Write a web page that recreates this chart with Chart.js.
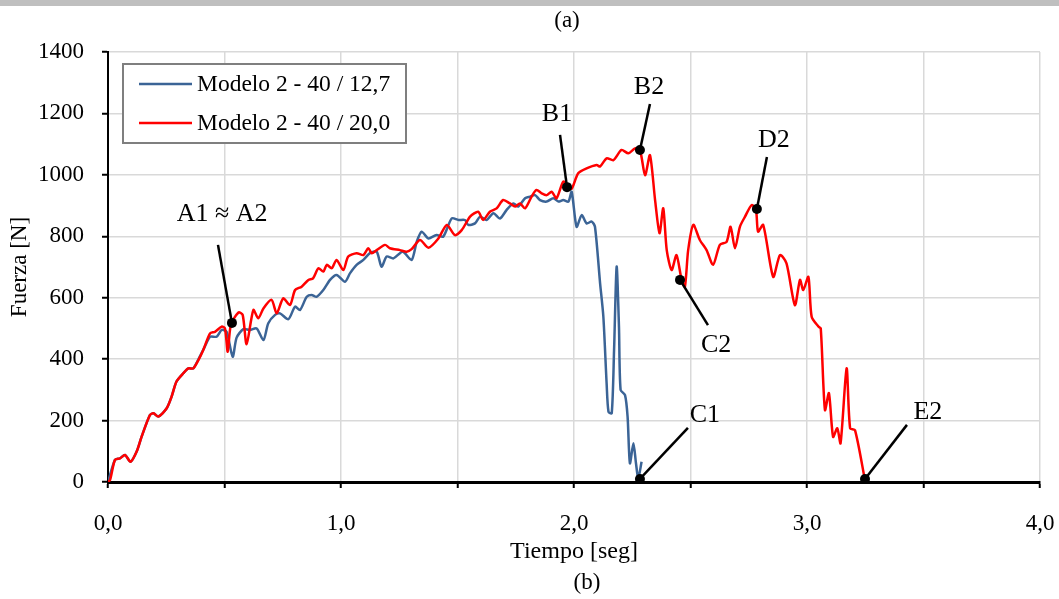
<!DOCTYPE html>
<html>
<head>
<meta charset="utf-8">
<script src="https://cdn.jsdelivr.net/npm/chart.js@4.4.1/dist/chart.umd.min.js"></script>
<style>
  html, body { margin: 0; padding: 0; background: #fff; }
  #wrap { position: relative; width: 1059px; height: 599px; }
  #bar { position: absolute; left: 0; top: 0; width: 1059px; height: 6px; background: #bfbfbf; }
</style>
</head>
<body>
<div id="wrap">
  <canvas id="chart" width="1059" height="599"></canvas>
  <div id="bar"></div>
</div>
<script>
// Modelo 2 - 40 / 12,7
const timeA = [0.00, 0.03, 0.05, 0.073, 0.097, 0.123, 0.144, 0.18, 0.195, 0.216, 0.252, 0.273, 0.294, 0.323, 0.345, 0.366, 0.395, 0.415, 0.438, 0.466, 0.488, 0.509, 0.535, 0.552, 0.581, 0.609, 0.638, 0.667, 0.688, 0.717, 0.738, 0.774, 0.803, 0.824, 0.853, 0.874, 0.895, 0.924, 0.953, 0.981, 1.017, 1.039, 1.067, 1.096, 1.124, 1.153, 1.174, 1.196, 1.225, 1.253, 1.267, 1.303, 1.325, 1.346, 1.375, 1.41, 1.439, 1.475, 1.504, 1.532, 1.546, 1.575, 1.597, 1.625, 1.654, 1.682, 1.711, 1.74, 1.761, 1.79, 1.811, 1.833, 1.854, 1.883, 1.911, 1.933, 1.954, 1.976, 1.99, 2.011, 2.033, 2.054, 2.076, 2.09, 2.112, 2.126, 2.14, 2.148, 2.162, 2.172, 2.183, 2.193, 2.2, 2.219, 2.23, 2.24, 2.255, 2.266, 2.276, 2.29];
const forceA = [0, 72, 77, 88, 66, 99, 147, 218, 224, 213, 240, 278, 327, 354, 370, 370, 410, 440, 473, 473, 495, 489, 408, 470, 498, 495, 500, 462, 517, 544, 549, 530, 571, 560, 603, 609, 603, 625, 658, 674, 652, 680, 707, 723, 745, 750, 701, 734, 728, 745, 750, 723, 782, 815, 793, 804, 799, 858, 853, 853, 837, 842, 864, 853, 875, 858, 886, 907, 897, 924, 929, 934, 918, 913, 924, 913, 918, 913, 945, 831, 869, 842, 848, 831, 647, 538, 321, 229, 224, 430, 701, 506, 300, 283, 213, 61, 126, 61, 12, 66];

// Modelo 2 - 40 / 20,0
const timeB = [0.00, 0.009, 0.03, 0.052, 0.073, 0.097, 0.123, 0.144, 0.18, 0.195, 0.216, 0.252, 0.273, 0.294, 0.323, 0.345, 0.366, 0.388, 0.409, 0.438, 0.459, 0.488, 0.502, 0.514, 0.527, 0.56, 0.578, 0.595, 0.624, 0.645, 0.667, 0.702, 0.724, 0.752, 0.781, 0.803, 0.831, 0.86, 0.88, 0.903, 0.924, 0.939, 0.96, 0.981, 1.01, 1.031, 1.067, 1.096, 1.117, 1.132, 1.153, 1.189, 1.21, 1.253, 1.282, 1.303, 1.339, 1.375, 1.418, 1.454, 1.489, 1.518, 1.554, 1.589, 1.61, 1.639, 1.668, 1.696, 1.725, 1.747, 1.768, 1.79, 1.818, 1.839, 1.861, 1.883, 1.904, 1.925, 1.954, 1.973, 1.99, 2.018, 2.054, 2.097, 2.112, 2.14, 2.169, 2.204, 2.233, 2.262, 2.283, 2.305, 2.326, 2.348, 2.367, 2.383, 2.398, 2.419, 2.44, 2.462, 2.476, 2.49, 2.512, 2.54, 2.569, 2.597, 2.626, 2.655, 2.672, 2.691, 2.712, 2.734, 2.763, 2.781, 2.79, 2.812, 2.855, 2.884, 2.912, 2.948, 2.97, 2.984, 3.006, 3.02, 3.049, 3.059, 3.077, 3.094, 3.112, 3.13, 3.144, 3.17, 3.185, 3.206, 3.249];
const forceB = [0, 7, 72, 77, 88, 66, 99, 147, 218, 224, 213, 240, 278, 327, 354, 370, 370, 397, 430, 484, 489, 506, 500, 424, 511, 552, 544, 449, 560, 533, 565, 593, 549, 598, 576, 625, 636, 658, 663, 696, 685, 707, 696, 723, 690, 734, 745, 739, 761, 745, 755, 772, 761, 755, 750, 758, 788, 763, 793, 837, 804, 820, 864, 880, 853, 880, 891, 918, 907, 897, 907, 891, 929, 951, 940, 934, 945, 924, 978, 962, 955, 1005, 1021, 1032, 1027, 1054, 1048, 1081, 1070, 1086, 1081, 999, 1064, 918, 810, 891, 755, 690, 739, 658, 636, 755, 837, 788, 755, 707, 772, 782, 831, 761, 831, 864, 902, 886, 815, 837, 668, 739, 712, 576, 658, 625, 668, 538, 506, 500, 234, 289, 147, 175, 126, 370, 175, 169, 5];

const seriesLabels = ['Modelo 2 - 40 / 12,7', 'Modelo 2 - 40 / 20,0'];
const seriesColors = ['#3b6496', '#ff0000'];

// marked points: text, point (t, F), end of leader line (t, F), label centre (t, F)
const markNames = ['A1 \u2248 A2', 'B1', 'B2', 'C1', 'C2', 'D2', 'E2'];
const markPoints = [[0.532, 518], [1.97, 960], [2.283, 1081], [2.283, 10], [2.455, 658], [2.785, 889], [3.249, 10]];
const markLineEnds = [[0.472, 772], [1.94, 1130], [2.326, 1231], [2.489, 176], [2.575, 511], [2.828, 1058], [3.429, 186]];
const markLabels = [[0.49, 872], [1.927, 1198], [2.322, 1286], [2.562, 218], [2.61, 445], [2.858, 1114], [3.519, 228]];

const FONT = 'Liberation Serif, Times New Roman, serif';

const toXY = (ts, fs) => ts.map((t, i) => ({ x: t, y: fs[i] }));

const decorations = {
  id: 'decorations',
  afterDatasetsDraw(chart) {
    const ctx = chart.ctx;
    const xs = chart.scales.x;
    const ys = chart.scales.y;
    ctx.save();

    // marked points
    ctx.strokeStyle = '#000';
    ctx.fillStyle = '#000';
    ctx.lineWidth = 2.5;
    ctx.font = '26px ' + FONT;
    ctx.textAlign = 'center';
    ctx.textBaseline = 'middle';
    markNames.forEach((name, i) => {
      const px = xs.getPixelForValue(markPoints[i][0]);
      const py = ys.getPixelForValue(markPoints[i][1]);
      const lx = xs.getPixelForValue(markLineEnds[i][0]);
      const ly = ys.getPixelForValue(markLineEnds[i][1]);
      ctx.beginPath();
      ctx.moveTo(px, py);
      ctx.lineTo(lx, ly);
      ctx.stroke();
      ctx.beginPath();
      ctx.arc(px, py, 5, 0, Math.PI * 2);
      ctx.fill();
      ctx.fillText(name, xs.getPixelForValue(markLabels[i][0]), ys.getPixelForValue(markLabels[i][1]));
    });

    // legend box
    ctx.fillStyle = '#fff';
    ctx.fillRect(123, 64, 283, 79);
    ctx.strokeStyle = '#7f7f7f';
    ctx.lineWidth = 2;
    ctx.strokeRect(123, 64, 283, 79);
    ctx.font = '23.5px ' + FONT;
    ctx.textAlign = 'left';
    seriesLabels.forEach((label, i) => {
      const y = 84 + i * 39;
      ctx.strokeStyle = seriesColors[i];
      ctx.lineWidth = 2.5;
      ctx.beginPath();
      ctx.moveTo(139, y);
      ctx.lineTo(192, y);
      ctx.stroke();
      ctx.fillStyle = '#000';
      ctx.fillText(label, 197, y + 1);
    });

    // panel captions
    ctx.font = '23px ' + FONT;
    ctx.textAlign = 'center';
    ctx.fillText('(a)', 567, 21);
    ctx.fillText('(b)', 587, 583);
    ctx.restore();
  }
};

new Chart(document.getElementById('chart'), {
  type: 'line',
  data: {
    datasets: [
      {
        label: seriesLabels[0],
        data: toXY(timeA, forceA),
        borderColor: seriesColors[0],
        borderWidth: 2.5,
        pointRadius: 0,
        tension: 0.25,
        fill: false,
        order: 1
      },
      {
        label: seriesLabels[1],
        data: toXY(timeB, forceB),
        borderColor: seriesColors[1],
        borderWidth: 2.5,
        pointRadius: 0,
        tension: 0.25,
        fill: false,
        order: 0
      }
    ]
  },
  options: {
    animation: false,
    responsive: false,
    layout: { padding: { top: 52, right: 19, bottom: 30, left: 0 } },
    plugins: {
      legend: { display: false },
      tooltip: { enabled: false }
    },
    scales: {
      x: {
        type: 'linear',
        min: 0,
        max: 4,
        afterFit: (scale) => {
          scale.height = 87;
          scale.paddingLeft = 0;
          scale.paddingRight = 0;
        },
        ticks: {
          stepSize: 0.5,
          color: '#000',
          padding: 22,
          font: { family: FONT, size: 23 },
          maxRotation: 0,
          autoSkip: false,
          callback: (v) => (v % 1 === 0 ? v.toFixed(1).replace('.', ',') : '')
        },
        grid: { color: '#d9d9d9', lineWidth: 1.5, tickColor: '#000', tickLength: 6, tickWidth: 2 },
        border: { color: '#000', width: 3 },
        title: { display: true, text: 'Tiempo [seg]', color: '#000', font: { family: FONT, size: 24 }, padding: { top: 0, bottom: 3 } }
      },
      y: {
        min: 0,
        max: 1400,
        afterFit: (scale) => {
          scale.width = 108;
          scale.paddingTop = 0;
          scale.paddingBottom = 0;
        },
        ticks: {
          stepSize: 200,
          color: '#000',
          padding: 18,
          font: { family: FONT, size: 23 },
          callback: (v) => String(v)
        },
        grid: { color: '#d9d9d9', lineWidth: 1.5, tickColor: '#000', tickLength: 6, tickWidth: 2 },
        border: { color: '#000', width: 2 },
        title: { display: true, text: 'Fuerza [N]', color: '#000', font: { family: FONT, size: 23 }, padding: { top: 6, bottom: 0 } }
      }
    }
  },
  plugins: [decorations]
});
</script>
</body>
</html>
